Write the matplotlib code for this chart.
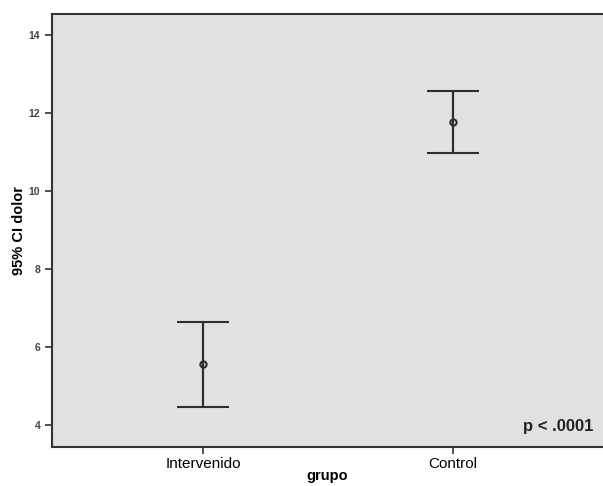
import numpy as np
import matplotlib
matplotlib.use('Agg')
import matplotlib.pyplot as plt

plt.rcParams['font.family'] = ['Liberation Sans', 'DejaVu Sans']

groups = ['Intervenido', 'Control']
means = [5.56, 11.77]
lower = [4.46, 10.98]
upper = [6.64, 12.56]
y_ticks = [4, 6, 8, 10, 12, 14]

fig = plt.figure(figsize=(6.03, 4.86), dpi=100)
ax = fig.add_axes([0.0862, 0.0802, 0.9138, 0.891])
ax.set_facecolor('#e1e1e1')

x = np.arange(len(groups))
m = np.array(means)
err = [m - np.array(lower), np.array(upper) - m]
ax.errorbar(x, m, yerr=err, fmt='o', color='#2e2e2e', ecolor='#2e2e2e',
            elinewidth=1.6, capsize=19, capthick=2.2,
            markersize=4.5, markerfacecolor='none', markeredgewidth=1.5)

ax.set_xlim(-0.604, 1.6)
ax.set_ylim(3.44, 14.54)
ax.set_xticks(x)
ax.set_xticklabels(groups, fontsize=11)
ax.set_yticks(y_ticks)
ax.set_yticklabels([str(t) for t in y_ticks], fontsize=7.5, color='#444444', fontweight='bold')
ax.tick_params(axis='both', length=5, width=1.2, color='#333333')
ax.tick_params(axis='x', pad=2)

for side in ['left', 'bottom', 'top']:
    ax.spines[side].set_color('#333333')
    ax.spines[side].set_linewidth(1.5)
ax.spines['right'].set_visible(False)

ax.set_xlabel('grupo', fontsize=10.5, fontweight='bold', labelpad=-1)
ax.set_ylabel('95% CI dolor', fontsize=10.5, fontweight='bold', labelpad=2)

ax.text(0.983, 0.03, 'p < .0001', transform=ax.transAxes, ha='right', va='bottom',
        fontsize=12, fontweight='bold', color='#222222')

fig.savefig('out.png', dpi=100)
